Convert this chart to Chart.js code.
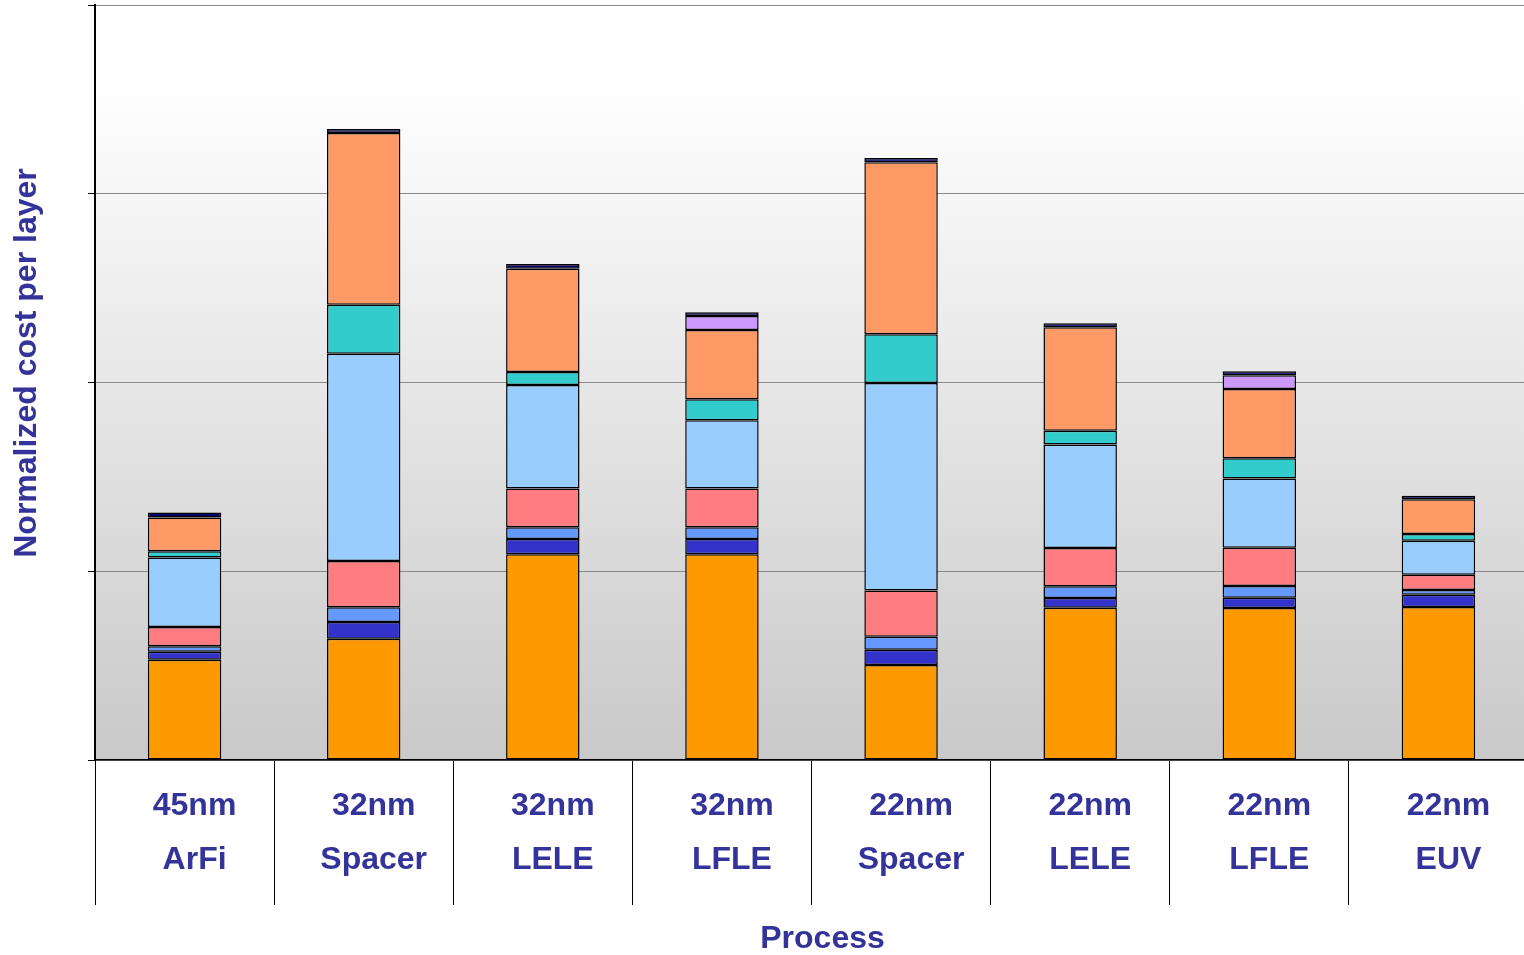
<!DOCTYPE html>
<html>
<head>
<meta charset="utf-8">
<title>Normalized cost per layer</title>
<script src="https://cdn.jsdelivr.net/npm/chart.js@4.4.1/dist/chart.umd.min.js"></script>
<style>
  html, body { margin: 0; padding: 0; background: #fff; overflow: hidden; }
  canvas { display: block; }
</style>
</head>
<body>
<!-- the last category runs a few px past the right edge of the window -->
<canvas id="costChart" width="1528" height="955"></canvas>
<script>
// process nodes and patterning schemes (two-line x labels)
const processNodes = ["45nm", "32nm", "32nm", "32nm", "22nm", "22nm", "22nm", "22nm"];
const processTypes = ["ArFi", "Spacer", "LELE", "LFLE", "Spacer", "LELE", "LFLE", "EUV"];

// cost components, stacked bottom to top
const exposure   = [0.531, 0.643, 1.090, 1.090, 0.503, 0.807, 0.805, 0.811];
const track      = [0.042, 0.088, 0.081, 0.081, 0.081, 0.051, 0.055, 0.064];
const reticle    = [0.030, 0.078, 0.062, 0.062, 0.069, 0.062, 0.062, 0.026];
const metrology  = [0.101, 0.245, 0.205, 0.205, 0.245, 0.203, 0.203, 0.081];
const etch       = [0.369, 1.098, 0.549, 0.362, 1.100, 0.549, 0.366, 0.180];
const deposition = [0.033, 0.260, 0.069, 0.111, 0.258, 0.072, 0.108, 0.035];
const cleanCmp   = [0.179, 0.910, 0.546, 0.367, 0.911, 0.549, 0.367, 0.185];
const freeze     = [null, null, null, 0.074, null, null, 0.072, null];
const other      = [0.026, 0.021, 0.026, 0.020, 0.023, 0.021, 0.021, 0.018];

const yTicks = [0, 1, 2, 3, 4];

const series = [
  { label: "Exposure",   data: exposure,   color: "#FF9900" },
  { label: "Track",      data: track,      color: "#3333CC" },
  { label: "Reticle",    data: reticle,    color: "#6699FF" },
  { label: "Metrology",  data: metrology,  color: "#FF7C80" },
  { label: "Etch",       data: etch,       color: "#99CCFF" },
  { label: "Deposition", data: deposition, color: "#33CCCC" },
  { label: "Clean/CMP",  data: cleanCmp,   color: "#FF9966" },
  { label: "Freeze",     data: freeze,     color: "#CC99FF" },
  { label: "Other",      data: other,      color: "#000066" },
];

const labelColor = "#333399";
const fontFamily = "'Liberation Sans', Arial, sans-serif";
const titleFont = "bold 32px " + fontFamily;

// grey fade behind the bars
const plotBackground = {
  id: "plotBackground",
  beforeDraw(chart) {
    const { ctx, chartArea: a } = chart;
    const g = ctx.createLinearGradient(0, a.top, 0, a.bottom);
    g.addColorStop(0, "#ffffff");
    g.addColorStop(0.1, "#ffffff");
    g.addColorStop(1, "#c9c9c9");
    ctx.save();
    ctx.fillStyle = g;
    ctx.fillRect(a.left, a.top, a.right - a.left, a.bottom - a.top);
    ctx.restore();
  },
};

// axis titles, placed by hand
const axisTitles = {
  id: "axisTitles",
  afterDraw(chart) {
    const { ctx, chartArea: a } = chart;
    ctx.save();
    ctx.font = titleFont;
    ctx.fillStyle = labelColor;
    ctx.textAlign = "center";
    ctx.textBaseline = "middle";
    ctx.fillText("Process", (a.left + a.right) / 2 + 11, 939);
    ctx.translate(27, 363);
    ctx.rotate(-Math.PI / 2);
    ctx.fillText("Normalized cost per layer", 0, 0);
    ctx.restore();
  },
};

new Chart(document.getElementById("costChart"), {
  type: "bar",
  data: {
    labels: processNodes.map((n, i) => [n, processTypes[i]]),
    datasets: series.map((s) => ({
      label: s.label,
      data: s.data,
      backgroundColor: s.color,
      borderColor: "#000",
      borderWidth: 1.5,
      borderSkipped: false,
      barPercentage: 0.41,
      categoryPercentage: 1,
    })),
  },
  options: {
    responsive: false,
    animation: false,
    layout: { padding: { top: 5, right: 0, left: 0, bottom: 0 } },
    plugins: {
      legend: { display: false },
      tooltip: { enabled: false },
    },
    scales: {
      x: {
        stacked: true,
        afterFit: (scale) => { scale.height = 195; },
        grid: {
          offset: true,
          drawOnChartArea: false,
          tickLength: 145,
          color: "#000",
          lineWidth: 1,
        },
        border: { color: "#000", width: 1.5 },
        ticks: {
          color: labelColor,
          padding: -126,
          labelOffset: 10,
          maxRotation: 0,
          autoSkip: false,
          font: { family: fontFamily, size: 32, weight: "bold", lineHeight: 1.6875 },
        },
      },
      y: {
        stacked: true,
        min: 0,
        max: 4,
        afterFit: (scale) => { scale.width = 95; },
        afterBuildTicks: (scale) => {
          scale.ticks = yTicks.map((v) => ({ value: v }));
        },
        grid: {
          color: "#8a8a8a",
          lineWidth: 1,
          tickLength: 7,
          tickColor: "#000",
        },
        border: { color: "#000", width: 2 },
        ticks: { display: false },
      },
    },
  },
  plugins: [plotBackground, axisTitles],
});
</script>
</body>
</html>
